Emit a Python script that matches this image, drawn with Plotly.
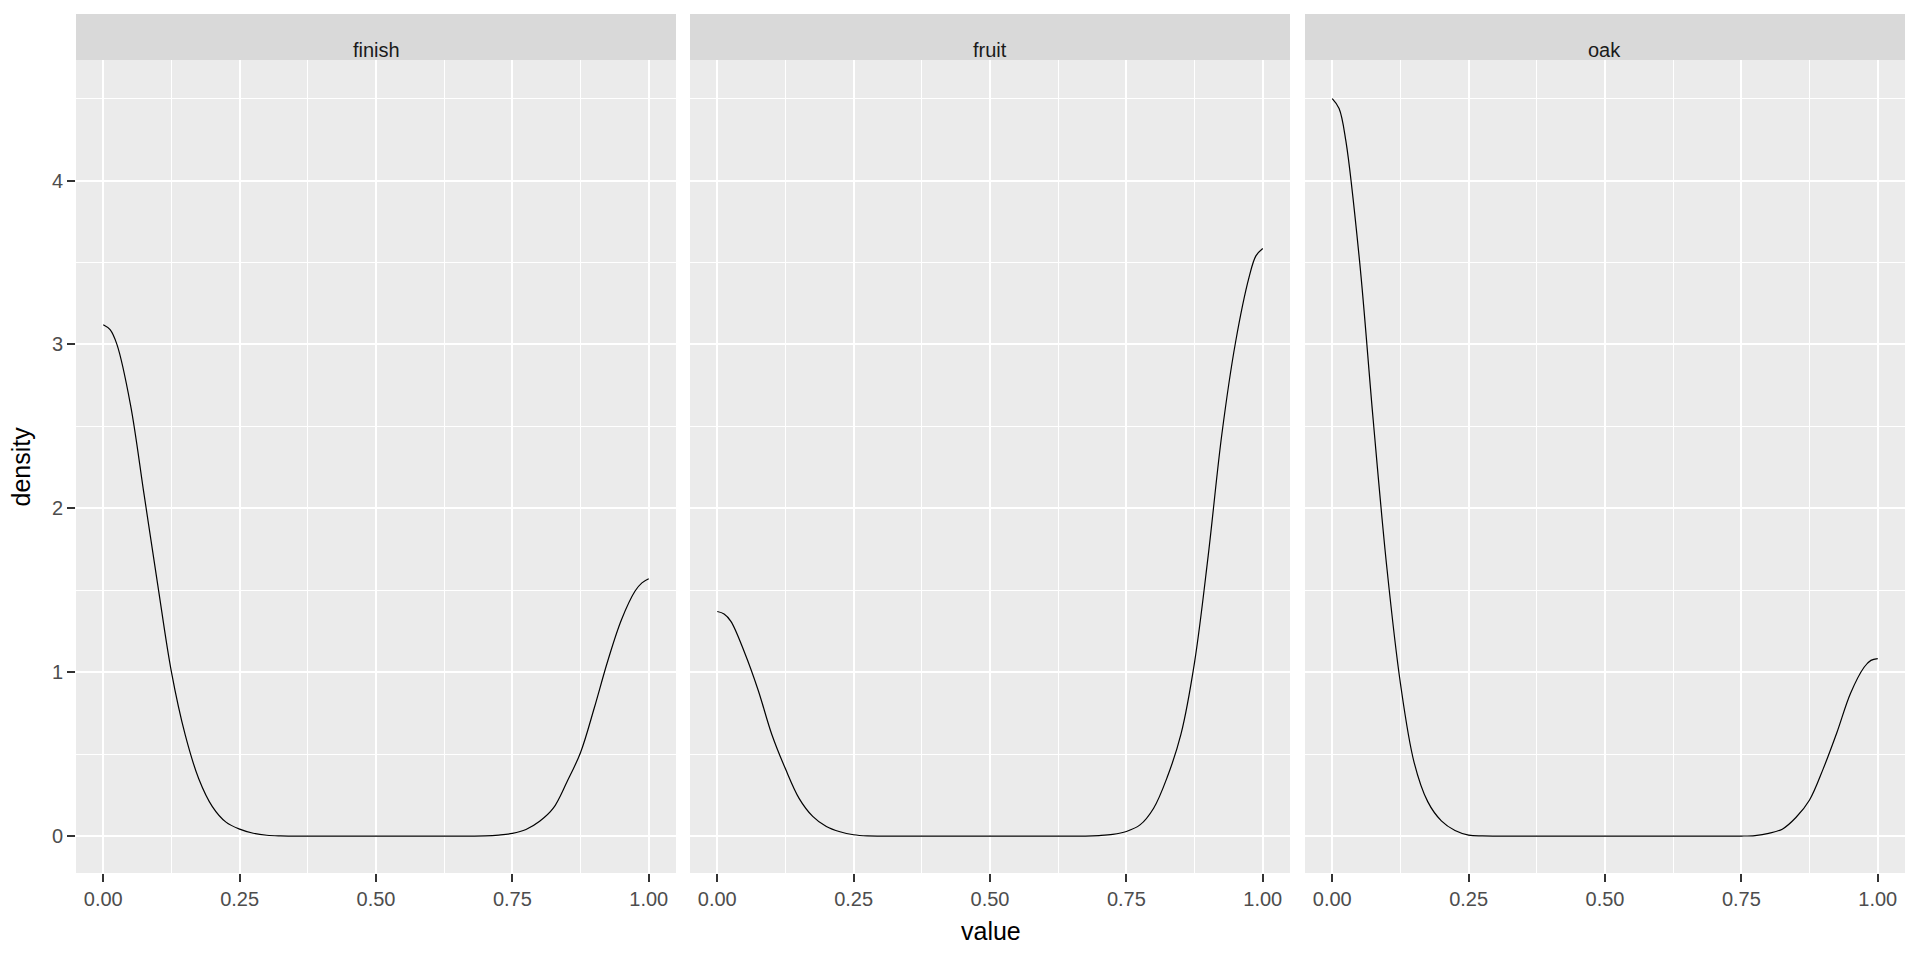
import plotly.graph_objects as go

# facet names and density estimates
facets = ["finish", "fruit", "oak"]

value = [0.0, 0.0125, 0.025, 0.05, 0.075, 0.1, 0.125, 0.15, 0.175, 0.2, 0.225,
         0.25, 0.275, 0.3, 0.325, 0.35, 0.375, 0.4, 0.425, 0.45, 0.475,
         0.5, 0.525, 0.55, 0.575, 0.6, 0.625, 0.65, 0.675, 0.7, 0.725,
         0.75, 0.775, 0.8, 0.825, 0.85, 0.875, 0.9, 0.925, 0.95, 0.975, 0.9875, 1.0]

density_finish = [3.12, 3.09, 3.00, 2.63, 2.08, 1.53, 1.00, 0.62, 0.35, 0.18, 0.085,
                  0.042, 0.017, 0.005, 0.001, 0, 0, 0, 0, 0, 0,
                  0, 0, 0, 0, 0, 0, 0, 0, 0.001, 0.006,
                  0.016, 0.04, 0.09, 0.17, 0.33, 0.51, 0.78, 1.07, 1.32, 1.495, 1.545, 1.57]

density_fruit = [1.37, 1.355, 1.31, 1.12, 0.89, 0.62, 0.41, 0.23, 0.12, 0.058, 0.026,
                 0.008, 0.001, 0, 0, 0, 0, 0, 0, 0, 0,
                 0, 0, 0, 0, 0, 0, 0, 0, 0.003, 0.01,
                 0.028, 0.068, 0.17, 0.36, 0.62, 1.06, 1.71, 2.45, 3.01, 3.41, 3.54, 3.585]

density_oak = [4.50, 4.44, 4.24, 3.51, 2.54, 1.64, 0.93, 0.45, 0.21, 0.093, 0.034,
               0.006, 0.001, 0, 0, 0, 0, 0, 0, 0, 0,
               0, 0, 0, 0, 0, 0, 0, 0, 0, 0,
               0, 0.003, 0.016, 0.042, 0.113, 0.22, 0.41, 0.63, 0.87, 1.03, 1.072, 1.083]

x_ticks = [0, 0.25, 0.5, 0.75, 1.0]
y_ticks = [0, 1, 2, 3, 4]

series = [density_finish, density_fruit, density_oak]

FONT = "Liberation Sans, Arial, sans-serif"
domains = [[0.0, 0.32805], [0.3357, 0.66375], [0.67195, 1.0]]
y_top = 0.94645

fig = go.Figure()

for i, (name, dens) in enumerate(zip(facets, series)):
    suffix = "" if i == 0 else str(i + 1)
    fig.add_trace(go.Scatter(
        x=value, y=dens, mode="lines",
        line=dict(color="black", width=1.2, shape="spline", smoothing=1.0),
        xaxis="x" + suffix, yaxis="y" + suffix,
        showlegend=False, hoverinfo="skip",
    ))

    xa = dict(
        domain=domains[i], anchor="y" + suffix,
        range=[-0.05, 1.05], tickvals=x_ticks, tickformat=".2f",
        ticks="outside", ticklen=8, tickwidth=1.6, tickcolor="#333333",
        tickfont=dict(family=FONT, size=20, color="#4D4D4D"),
        showgrid=True, gridcolor="white", gridwidth=1.5,
        minor=dict(tick0=0.125, dtick=0.25, showgrid=True, gridcolor="white", gridwidth=0.8),
        zeroline=False, showline=False,
    )
    ya = dict(
        domain=[0, y_top], anchor="x" + suffix,
        range=[-0.2255, 4.7355], tickvals=y_ticks,
        showgrid=True, gridcolor="white", gridwidth=1.5,
        minor=dict(tick0=0.5, dtick=1, showgrid=True, gridcolor="white", gridwidth=0.8),
        zeroline=False, showline=False,
    )
    if i == 0:
        ya.update(ticks="outside", ticklen=8, tickwidth=1.6, tickcolor="#333333",
                  tickfont=dict(family=FONT, size=20, color="#4D4D4D"))
    else:
        ya.update(matches="y", showticklabels=False, ticks="")
    fig.update_layout({"xaxis" + suffix: xa, "yaxis" + suffix: ya})

    # facet strip
    fig.add_shape(type="rect", xref="x" + suffix + " domain", yref="paper",
                  x0=0, x1=1, y0=y_top, y1=1,
                  fillcolor="#D9D9D9", line=dict(width=0), layer="below")
    fig.add_annotation(text=name, xref="x" + suffix + " domain", yref="paper",
                       x=0.5, y=(y_top + 1) / 2, showarrow=False,
                       font=dict(family=FONT, size=20, color="#1A1A1A"))

# axis titles
fig.add_annotation(text="value", xref="paper", yref="paper", x=0.5, y=0,
                   yshift=-58, showarrow=False, yanchor="middle",
                   font=dict(family=FONT, size=25, color="black"))
fig.add_annotation(text="density", xref="paper", yref="paper", x=0, y=y_top / 2,
                   xshift=-55, showarrow=False, textangle=-90, xanchor="center",
                   font=dict(family=FONT, size=25, color="black"))

# page body keeps an 8px margin, so the figure is 16px smaller than the window
fig.update_layout(
    width=1904, height=944,
    margin=dict(l=68, r=7, t=6, b=79),
    paper_bgcolor="white", plot_bgcolor="#EBEBEB",
    font=dict(family=FONT),
)

fig.write_html("out.html")
